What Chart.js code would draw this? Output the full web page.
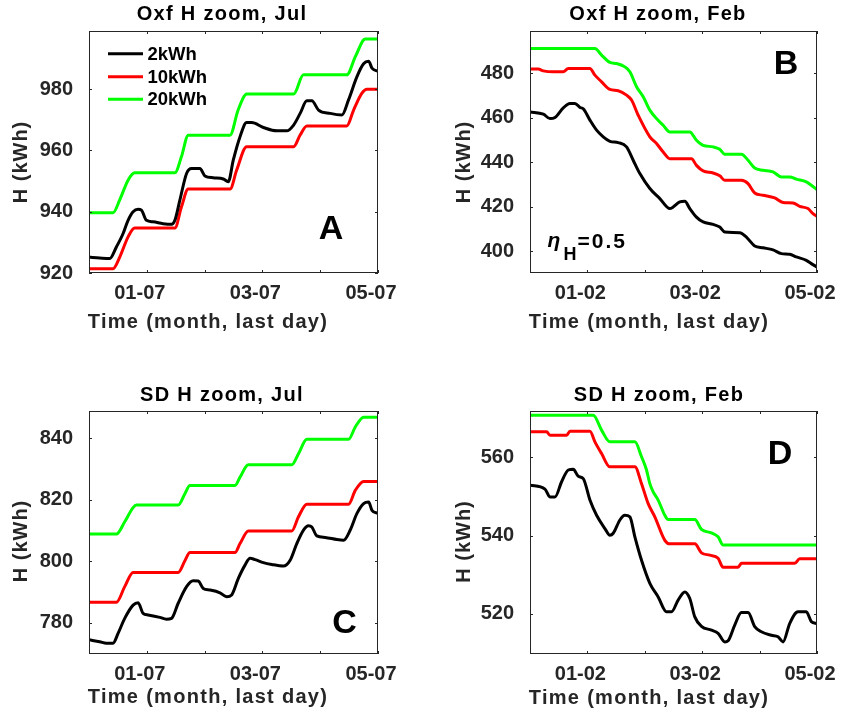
<!DOCTYPE html>
<html><head><meta charset="utf-8">
<script src="https://cdn.jsdelivr.net/npm/chart.js@4.4.1/dist/chart.umd.min.js"></script>
<style>
html,body{margin:0;padding:0;background:#fff;width:841px;height:715px;overflow:hidden;}
canvas{position:absolute;}
</style></head><body>
<canvas id="cA" style="left:0px;top:0px" width="420" height="357"></canvas>
<canvas id="cB" style="left:420px;top:0px" width="421" height="357"></canvas>
<canvas id="cC" style="left:0px;top:357px" width="420" height="358"></canvas>
<canvas id="cD" style="left:420px;top:357px" width="421" height="358"></canvas>
<script>
// ---------------- DATA ----------------
const seriesLabels = ['2kWh', '10kWh', '20kWh'];
const xTickValues = [1, 2, 3, 4, 5];
const xTickLabelsJul = ['01-07', '', '03-07', '', '05-07'];
const xTickLabelsFeb = ['01-02', '', '03-02', '', '05-02'];
const yTicksA = [920, 940, 960, 980];
const yTicksB = [400, 420, 440, 460, 480];
const yTicksC = [780, 800, 820, 840];
const yTicksD = [520, 540, 560];

// Panel A: Oxf, Jul
const A_t_2kWh = [0,0.185,0.358,0.474,0.59,0.676,0.763,0.85,0.907,0.994,1.11,1.283,1.428,1.486,1.572,1.688,1.775,1.919,2.006,2.15,2.324,2.41,2.497,2.613,2.728,2.815,3.017,3.249,3.42,3.54,3.653,3.769,3.855,3.971,4.173,4.376,4.49,4.636,4.75,4.838,4.896,5];
const A_H_2kWh = [925.2,924.9,924.7,928.5,932.9,937.2,940.0,940.8,940.5,937.2,936.7,936.1,935.9,937.2,943.8,952.5,954.1,954.1,951.7,951.1,950.7,949.8,956.9,964.5,969.1,969.1,967.5,966.4,966.4,968.3,972.1,976.2,976.2,973.2,972.1,971.6,976.5,984.1,988.3,989.1,986.9,985.8];
const A_t_10kWh = [0,0.416,0.532,0.676,0.79,1.486,1.60,1.717,2.44,2.555,2.728,3.54,3.653,3.769,4.46,4.578,4.722,4.809,5];
const A_H_10kWh = [921.4,921.4,925.2,931.8,934.7,934.7,941.6,947.4,947.4,953.6,961.2,961.2,965.05,968.0,968.0,973.2,978.7,980.0,980.0];
const A_t_20kWh = [0,0.416,0.53,0.676,0.79,1.486,1.60,1.717,2.44,2.58,2.73,3.54,3.71,4.46,4.61,4.78,5];
const A_H_20kWh = [939.7,939.7,943.8,950.3,952.7,952.7,958.0,965.0,965.0,973.2,978.4,978.4,984.7,984.7,990.7,996.4,996.4];

// Panel B: Oxf, Feb
const B_t_2kWh = [0,0.232,0.348,0.435,0.58,0.696,0.783,0.87,0.928,1.044,1.16,1.276,1.392,1.537,1.682,1.798,1.914,2.088,2.262,2.436,2.494,2.61,2.697,2.784,2.9,3.016,3.19,3.306,3.393,3.654,3.77,3.915,4.06,4.234,4.379,4.524,4.64,4.814,4.901,5];
const B_H_2kWh = [462.6,461.6,459.6,460.1,464.4,466.4,466.4,464.6,464.0,458.9,454.4,451.4,449.4,448.8,446.9,440.9,434.9,428.2,423.7,419.2,419.9,422.2,422.5,419.2,415.4,413.2,412.1,410.9,408.7,408.4,406.4,402.4,401.6,400.7,399.0,398.7,397.5,396.0,394.5,393.0];
const B_t_10kWh = [0,0.145,0.232,0.406,0.58,0.667,1.044,1.131,1.247,1.392,1.537,1.682,1.769,1.885,2.088,2.204,2.32,2.436,2.813,2.9,3.016,3.19,3.306,3.393,3.683,3.799,3.915,4.06,4.263,4.408,4.582,4.698,4.843,4.93,5];
const B_H_10kWh = [481.8,481.8,481.0,480.6,480.6,482.1,482.1,479.1,476.1,472.7,472.1,470.1,467.9,461.1,451.4,448.4,444.6,441.6,441.6,438.6,436.1,435.2,433.9,431.9,431.9,430.4,426.2,425.2,424.0,421.9,421.7,420.2,419.2,416.9,415.7];
const B_t_20kWh = [0,1.131,1.247,1.392,1.508,1.653,1.74,1.856,1.972,2.088,2.204,2.32,2.436,2.784,2.9,3.016,3.19,3.306,3.393,3.683,3.799,3.915,4.06,4.234,4.379,4.524,4.64,4.814,4.901,5];
const B_H_20kWh = [491.1,491.1,488.1,484.8,484.3,482.8,480.6,473.9,469.4,463.4,459.6,456.6,453.6,453.6,449.9,447.6,446.9,445.8,443.6,443.6,440.9,437.4,436.4,435.7,433.4,433.4,432.4,431.2,429.7,427.7];

// Panel C: SD, Jul
const C_t_2kWh = [0,0.185,0.301,0.416,0.503,0.618,0.763,0.85,0.936,1.023,1.225,1.341,1.428,1.543,1.688,1.803,1.89,1.977,2.092,2.266,2.382,2.468,2.584,2.699,2.786,2.873,3.017,3.162,3.364,3.48,3.595,3.711,3.798,3.855,3.942,4.087,4.289,4.405,4.52,4.636,4.751,4.838,4.896,5];
const C_H_2kWh = [774.4,773.8,773.3,773.3,776.5,781.4,785.7,786.5,783.0,782.5,781.7,781.1,781.4,786.3,791.7,793.6,793.5,791.1,790.6,789.7,788.4,789.0,794.4,798.7,800.9,800.5,799.5,798.9,798.4,800.3,805.7,810.1,811.5,811.1,808.2,807.7,807.0,806.8,810.1,815.5,818.7,819.2,816.5,815.5];
const C_t_10kWh = [0,0.474,0.618,0.763,1.543,1.659,1.746,2.526,2.613,2.757,3.509,3.624,3.769,4.491,4.607,4.751,5];
const C_H_10kWh = [786.6,786.6,791.7,796.3,796.3,800.1,802.8,802.8,805.7,809.8,809.8,814.4,818.5,818.5,823.0,825.9,825.9];
const C_t_20kWh = [0,0.474,0.618,0.763,0.821,1.543,1.659,1.746,2.526,2.613,2.757,3.509,3.624,3.769,4.491,4.607,4.751,5];
const C_H_20kWh = [808.8,808.8,812.8,817.4,818.2,818.2,821.9,824.6,824.6,827.3,831.3,831.3,834.9,839.6,839.6,843.6,846.8,846.8];

// Panel D: SD, Feb
const D_t_2kWh = [0,0.261,0.348,0.435,0.551,0.667,0.754,0.841,0.928,1.044,1.16,1.305,1.392,1.45,1.566,1.653,1.74,1.827,1.943,2.088,2.233,2.378,2.465,2.581,2.697,2.784,2.871,2.987,3.161,3.277,3.393,3.451,3.567,3.683,3.799,3.915,4.031,4.205,4.321,4.408,4.524,4.669,4.814,4.901,5];
const D_H_2kWh = [552.9,551.9,549.9,549.9,553.8,556.8,557.0,555.2,554.6,549.1,545.2,541.8,540.1,540.6,544.0,545.2,544.8,539.7,533.7,527.8,524.3,520.5,520.5,523.5,525.6,523.9,519.2,516.8,515.8,515.0,512.8,513.1,517.1,520.3,520.3,516.7,515.4,514.5,514.1,512.8,517.5,520.5,520.5,518.0,517.5];
const D_t_10kWh = [0,0.29,0.348,0.638,0.696,1.044,1.131,1.247,1.392,1.827,1.943,2.059,2.175,2.349,2.436,2.871,2.987,3.132,3.277,3.364,3.625,3.683,4.611,4.698,5];
const D_H_10kWh = [566.6,566.6,565.7,565.7,566.7,566.7,564.0,561.0,557.6,557.6,553.3,548.2,544.8,538.8,537.9,537.9,535.6,535.0,534.2,531.9,531.9,532.9,532.9,534.1,534.1];
const D_t_20kWh = [0,1.102,1.247,1.392,1.827,1.943,2.03,2.088,2.146,2.233,2.349,2.407,2.871,2.987,3.161,3.277,3.364,5];
const D_H_20kWh = [570.8,570.8,567.0,564.0,564.0,560.2,556.8,553.3,551.2,549.1,545.2,544.1,544.1,541.6,540.7,539.7,537.6,537.6];

// ---------------- STYLE / LAYOUT ----------------
const seriesColors = ['#000000', '#ff0000', '#00ff00'];
const FONT = '"Liberation Sans", Arial, Helvetica, sans-serif';
const TICK_COLOR = '#262626';

function pts(t, h) { return t.map((v, i) => ({ x: v, y: h[i] })); }

function txt(ctx, s, x, y, font, color, align, spacing, rot) {
  ctx.save();
  ctx.font = font; ctx.fillStyle = color; ctx.textAlign = align; ctx.textBaseline = 'alphabetic';
  if ('letterSpacing' in ctx) ctx.letterSpacing = (spacing || 0) + 'px';
  ctx.translate(x, y);
  if (rot) ctx.rotate(rot);
  ctx.fillText(s, 0, 0);
  ctx.restore();
}

const deco = {
  id: 'deco',
  afterDatasetsDraw(chart, args, o) {
    const ctx = chart.ctx, a = chart.chartArea;
    const xs = chart.scales.x, ys = chart.scales.y;
    const TL = 3;
    ctx.save();
    ctx.strokeStyle = '#262626'; ctx.lineWidth = 1;
    ctx.beginPath();
    xs.ticks.forEach(t => {
      const px = Math.round(xs.getPixelForValue(t.value)) + 0.5;
      ctx.moveTo(px, a.bottom); ctx.lineTo(px, a.bottom - TL);
      ctx.moveTo(px, a.top); ctx.lineTo(px, a.top + TL);
    });
    ys.ticks.forEach(t => {
      const py = Math.round(ys.getPixelForValue(t.value)) + 0.5;
      ctx.moveTo(a.left, py); ctx.lineTo(a.left + TL, py);
      ctx.moveTo(a.right, py); ctx.lineTo(a.right - TL, py);
    });
    ctx.stroke();
    ctx.strokeRect(a.left + 0.5, a.top + 0.5, a.width - 1, a.height - 1);
    ctx.restore();

    const ox = o.ox, oy = o.oy;
    // title
    txt(ctx, o.title, o.titleX - ox, o.titleY - oy, 'bold 20px ' + FONT, '#000', 'center', 1.3);
    // x label
    txt(ctx, 'Time (month, last day)', o.xlabX - ox, o.xlabY - oy, 'bold 20px ' + FONT, TICK_COLOR, 'center', 1.3);
    // y label
    txt(ctx, 'H (kWh)', o.ylabX - ox, o.ylabY - oy, 'bold 20px ' + FONT, TICK_COLOR, 'center', 1.0, -Math.PI / 2);
    // panel letter
    txt(ctx, o.letter, o.letX - ox, o.letY - oy, 'bold 34px ' + FONT, '#000', 'center', 0);
    // legend
    if (o.legend) {
      chart.data.datasets.forEach((ds, i) => {
        const y = o.legend.y[i] - oy;
        ctx.save();
        ctx.strokeStyle = ds.borderColor; ctx.lineWidth = 3;
        ctx.beginPath(); ctx.moveTo(o.legend.x0 - ox, y); ctx.lineTo(o.legend.x1 - ox, y); ctx.stroke();
        ctx.font = 'bold 18.5px ' + FONT; ctx.fillStyle = '#000'; ctx.textAlign = 'left'; ctx.textBaseline = 'middle';
        ctx.fillText(ds.label, o.legend.tx - ox, y + 1);
        ctx.restore();
      });
    }
    if (o.eta) {
      txt(ctx, 'η', o.eta.x - ox, o.eta.y - oy, 'italic bold 21px ' + FONT, '#000', 'left', 0);
      txt(ctx, 'H', o.eta.x + 16 - ox, o.eta.y + 13 - oy, 'bold 18px ' + FONT, '#000', 'left', 0);
      txt(ctx, '=0.5', o.eta.x + 30 - ox, o.eta.y + 1 - oy, 'bold 21px ' + FONT, '#000', 'left', 2);
    }
  }
};

function makeChart(id, cfg) {
  const datasets = cfg.series.map((s, i) => ({
    label: seriesLabels[i],
    data: pts(s[0], s[1]),
    borderColor: seriesColors[i],
    backgroundColor: seriesColors[i],
    borderWidth: 3,
    pointRadius: 0,
    fill: false,
    cubicInterpolationMode: 'monotone',
    borderJoinStyle: 'round',
    borderCapStyle: 'round'
  }));
  return new Chart(document.getElementById(id), {
    type: 'line',
    data: { datasets },
    plugins: [deco],
    options: {
      responsive: false, animation: false, devicePixelRatio: 1,
      layout: { padding: { left: 0, top: cfg.padTop, right: cfg.padRight, bottom: 0 } },
      plugins: { legend: { display: false }, tooltip: { enabled: false }, deco: cfg.deco },
      scales: {
        x: {
          type: 'linear', min: 0, max: 5,
          grid: { display: false, drawTicks: false }, border: { display: false },
          afterBuildTicks: s => { s.ticks = xTickValues.map(v => ({ value: v })); },
          afterFit: s => { s.height = cfg.xH; s.paddingLeft = 0; s.paddingRight = 0; },
          ticks: {
            autoSkip: false, maxRotation: 0, minRotation: 0, padding: 8, labelOffset: -7,
            color: TICK_COLOR, font: { family: FONT, size: 20, weight: 'bold' },
            callback: v => { const k = xTickValues.indexOf(v); return k >= 0 ? cfg.xLabels[k] : ''; }
          }
        },
        y: {
          type: 'linear', min: cfg.yMin, max: cfg.yMax,
          grid: { display: false, drawTicks: false }, border: { display: false },
          afterBuildTicks: s => { s.ticks = cfg.yTicks.map(v => ({ value: v })); },
          afterFit: s => { s.width = cfg.yW; s.paddingTop = 0; s.paddingBottom = 0; },
          ticks: {
            autoSkip: false, padding: 16,
            color: TICK_COLOR, font: { family: FONT, size: 20, weight: 'bold' },
            callback: v => String(v)
          }
        }
      }
    }
  });
}

makeChart('cA', {
  series: [[A_t_2kWh, A_H_2kWh], [A_t_10kWh, A_H_10kWh], [A_t_20kWh, A_H_20kWh]],
  xLabels: xTickLabelsJul, yTicks: yTicksA, yMin: 920, yMax: 999,
  padTop: 31, padRight: 42, yW: 89, xH: 84,
  deco: { ox: 0, oy: 0, title: 'Oxf H zoom, Jul', titleX: 222, titleY: 20,
    xlabX: 208, xlabY: 328, ylabX: 27, ylabY: 162, letter: 'A', letX: 331, letY: 239,
    legend: { x0: 108, x1: 143, tx: 147.5, y: [53.7, 76.7, 99.3] } }
});
makeChart('cB', {
  series: [[B_t_2kWh, B_H_2kWh], [B_t_10kWh, B_H_10kWh], [B_t_20kWh, B_H_20kWh]],
  xLabels: xTickLabelsFeb, yTicks: yTicksB, yMin: 390.3, yMax: 498.9,
  padTop: 31, padRight: 24, yW: 110, xH: 84,
  deco: { ox: 420, oy: 0, title: 'Oxf H zoom, Feb', titleX: 658, titleY: 20,
    xlabX: 649, xlabY: 328, ylabX: 469.5, ylabY: 162, letter: 'B', letX: 786, letY: 74,
    eta: { x: 547.5, y: 247 } }
});
makeChart('cC', {
  series: [[C_t_2kWh, C_H_2kWh], [C_t_10kWh, C_H_10kWh], [C_t_20kWh, C_H_20kWh]],
  xLabels: xTickLabelsJul, yTicks: yTicksC, yMin: 769.8, yMax: 848.8,
  padTop: 54, padRight: 42, yW: 89, xH: 61,
  deco: { ox: 0, oy: 357, title: 'SD H zoom, Jul', titleX: 222, titleY: 400.5,
    xlabX: 208, xlabY: 703, ylabX: 27, ylabY: 541, letter: 'C', letX: 344.5, letY: 633 }
});
makeChart('cD', {
  series: [[D_t_2kWh, D_H_2kWh], [D_t_10kWh, D_H_10kWh], [D_t_20kWh, D_H_20kWh]],
  xLabels: xTickLabelsFeb, yTicks: yTicksD, yMin: 509.7, yMax: 571.9,
  padTop: 54, padRight: 24, yW: 110, xH: 61,
  deco: { ox: 420, oy: 357, title: 'SD H zoom, Feb', titleX: 659, titleY: 400.5,
    xlabX: 649, xlabY: 704, ylabX: 469.5, ylabY: 541.5, letter: 'D', letX: 780, letY: 464 }
});
</script>
</body></html>
